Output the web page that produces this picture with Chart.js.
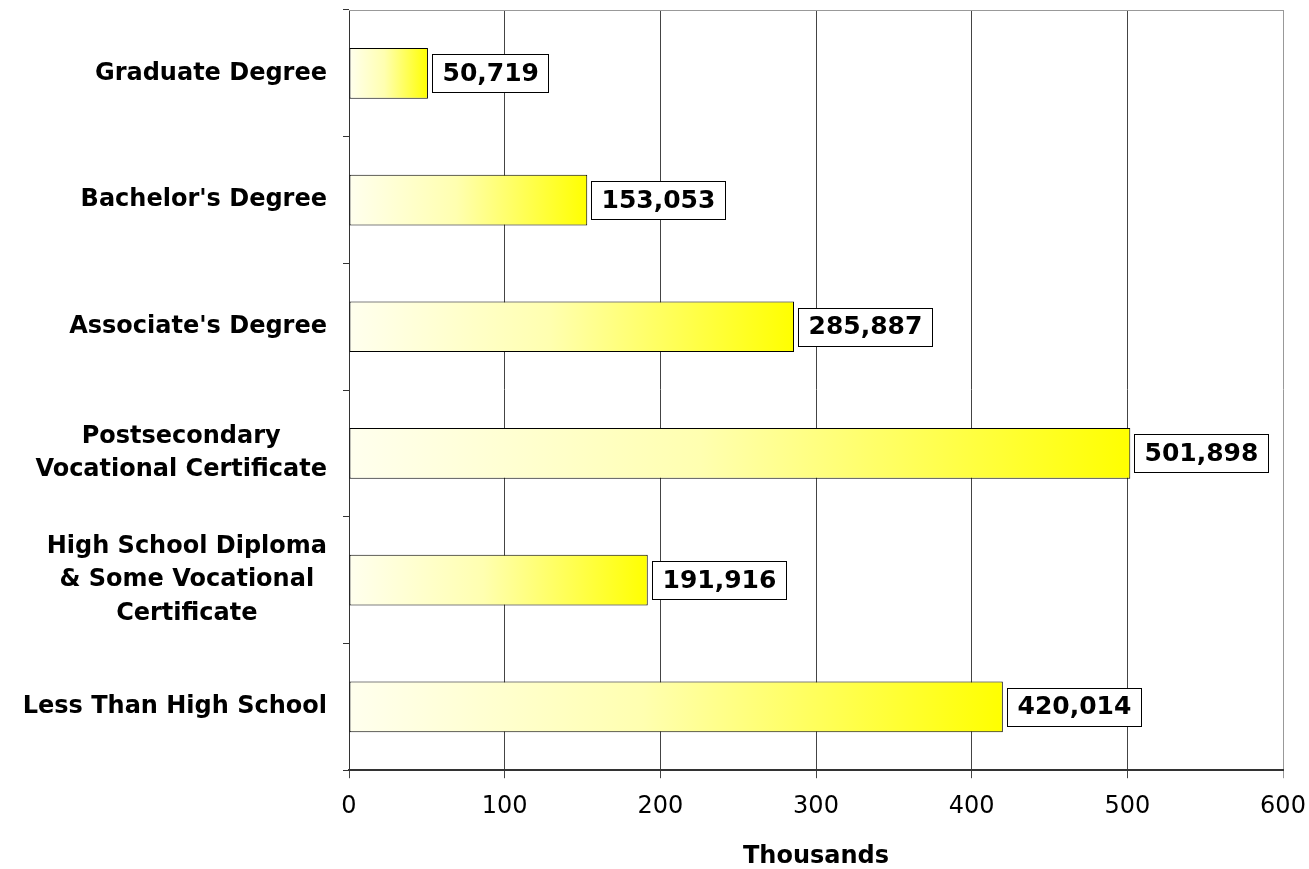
<!DOCTYPE html>
<html>
<head>
<meta charset="utf-8">
<script src="https://cdn.jsdelivr.net/npm/chart.js@4/dist/chart.umd.min.js"></script>
<style>
html,body{margin:0;padding:0;background:#fff;}
#wrap{width:1309px;height:869px;}
</style>
</head>
<body>
<div id="wrap"><canvas id="c" width="1309" height="869"></canvas></div>
<script>
const categories = [
  ["Graduate Degree"],
  ["Bachelor's Degree"],
  ["Associate's Degree"],
  ["Postsecondary", "Vocational Certificate"],
  ["High School Diploma", "& Some Vocational", "Certificate"],
  ["Less Than High School"]
];
const values = [50.719, 153.053, 285.887, 501.898, 191.916, 420.014]; // thousands
const xTicks = [0, 100, 200, 300, 400, 500, 600];
const axisTitle = "Thousands";

const FONT = "'DejaVu Sans', Verdana, sans-serif";

function barGradient(context) {
  const chart = context.chart;
  const area = chart.chartArea;
  if (!area || !chart.scales.x) return '#FFFF00';
  const x0 = chart.scales.x.getPixelForValue(0);
  const x1 = chart.scales.x.getPixelForValue(values[context.dataIndex] || 0);
  const g = chart.ctx.createLinearGradient(x0, 0, x1, 0);
  g.addColorStop(0, '#FFFFEE');
  g.addColorStop(0.45, '#FFFFB0');
  g.addColorStop(1, '#FFFF00');
  return g;
}

const overlay = {
  id: 'overlay',
  afterDraw(chart) {
    const ctx = chart.ctx;
    const a = chart.chartArea;
    const ys = chart.scales.y;
    ctx.save();
    ctx.strokeStyle = '#999999';
    ctx.lineWidth = 1;
    ctx.beginPath();
    ctx.moveTo(a.left, a.top + 0.5);
    ctx.lineTo(a.right, a.top + 0.5);
    ctx.stroke();
    // category labels
    ctx.fillStyle = '#000';
    ctx.font = "bold 24px " + FONT;
    ctx.textAlign = 'center';
    ctx.textBaseline = 'middle';
    const lh = 33.5;
    categories.forEach((lines, i) => {
      const yc = ys.getPixelForValue(i);
      let w = 0;
      lines.forEach(l => { w = Math.max(w, ctx.measureText(l).width); });
      const cx = a.left - 22 - w / 2;
      lines.forEach((l, j) => {
        ctx.fillText(l, cx, yc + (j - (lines.length - 1) / 2) * lh);
      });
    });
    // value boxes
    ctx.font = "bold 25px " + FONT;
    ctx.textAlign = 'left';
    const meta = chart.getDatasetMeta(0);
    meta.data.forEach((bar, i) => {
      const txt = Math.round(values[i] * 1000).toLocaleString('en-US');
      const tw = ctx.measureText(txt).width;
      const bx = Math.round(bar.x) + 4.5;
      const bh = 38;
      const by = Math.round(bar.y - bh / 2) + 0.5;
      const bw = Math.round(tw + 20);
      ctx.fillStyle = '#fff';
      ctx.fillRect(bx, by, bw, bh);
      ctx.strokeStyle = '#000';
      ctx.lineWidth = 1;
      ctx.strokeRect(bx, by, bw, bh);
      ctx.fillStyle = '#000';
      ctx.fillText(txt, bx + 10, bar.y + 1);
    });
    ctx.restore();
  }
};

new Chart(document.getElementById('c'), {
  type: 'bar',
  data: {
    labels: categories.map(c => c.join(' ')),
    datasets: [{
      data: values,
      backgroundColor: barGradient,
      borderColor: '#000',
      borderWidth: 1,
      borderSkipped: false,
      categoryPercentage: 1,
      barPercentage: 0.4
    }]
  },
  options: {
    indexAxis: 'y',
    responsive: false,
    animation: false,
    devicePixelRatio: 1,
    layout: { padding: { left: 343, right: 26, top: 10, bottom: 0 } },
    plugins: { legend: { display: false }, tooltip: { enabled: false } },
    scales: {
      x: {
        min: 0, max: 600,
        afterBuildTicks(scale) { scale.ticks = xTicks.map(v => ({ value: v })); },
        afterFit(scale) { scale.paddingRight = 0; scale.paddingLeft = 0; },
        grid: {
          color: (c) => (c.tick && c.tick.value === xTicks[xTicks.length - 1]) ? '#999' : '#444',
          lineWidth: 1, tickLength: 8, drawTicks: true
        },
        border: { color: '#333', width: 2 },
        ticks: { color: '#000', font: { family: FONT, size: 24 }, padding: 14 },
        title: { display: true, text: axisTitle, color: '#000', font: { family: FONT, size: 24, weight: 'bold', lineHeight: 1 }, padding: { top: 10, bottom: 0 } }
      },
      y: {
        grid: { drawOnChartArea: false, color: '#333', tickLength: 6, offset: true },
        border: { color: '#333', width: 1 },
        ticks: { display: false }
      }
    }
  },
  plugins: [overlay]
});
</script>
</body>
</html>
